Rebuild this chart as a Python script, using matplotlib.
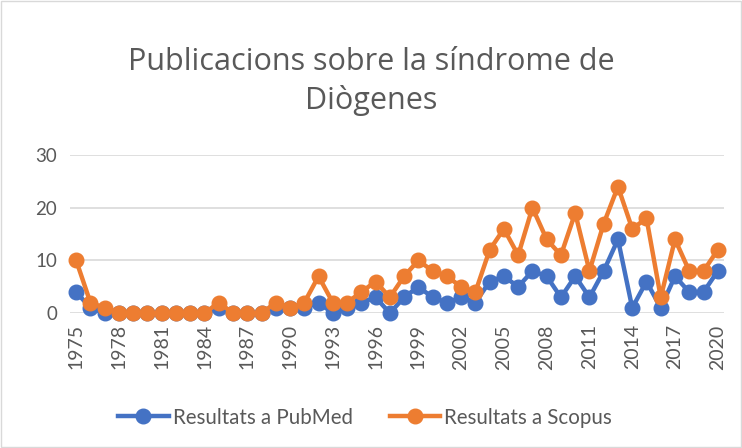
import matplotlib.pyplot as plt

years = list(range(1975, 2021))
pubmed = [4, 1, 0, 0, 0, 0, 0, 0, 0, 0, 1, 0, 0, 0, 1, 1, 1, 2, 0, 1,
          2, 3, 0, 3, 5, 3, 2, 3, 2, 6, 7, 5, 8, 7, 3, 7, 3, 8, 14, 1,
          6, 1, 7, 4, 4, 8]
scopus = [10, 2, 1, 0, 0, 0, 0, 0, 0, 0, 2, 0, 0, 0, 2, 1, 2, 7, 2, 2,
          4, 6, 3, 7, 10, 8, 7, 5, 4, 12, 16, 11, 20, 14, 11, 19, 8, 17, 24, 16,
          18, 3, 14, 8, 8, 12]
tick_years = years[::3]
title = "Publicacions sobre la síndrome de\nDiògenes"

plt.rcParams['font.family'] = ['Lato', 'DejaVu Sans']
txt = '#595959'

fig = plt.figure(figsize=(7.42, 4.48), dpi=100)
ax = fig.add_axes([0.094, 0.301, 0.882, 0.353])

ax.plot(years, pubmed, color='#4472C4', lw=3.2, marker='o', ms=10.5,
        label='Resultats a PubMed', clip_on=False, zorder=3)
ax.plot(years, scopus, color='#ED7D31', lw=3.2, marker='o', ms=10.5,
        label='Resultats a Scopus', clip_on=False, zorder=4)

ax.set_xlim(1974.55, 2020.45)
ax.set_ylim(0, 30)
ax.set_yticks([0, 10, 20, 30])
ax.set_xticks(tick_years)
ax.set_xticklabels([str(y) for y in tick_years], rotation=90)
ax.tick_params(axis='y', length=0, labelsize=13.5, colors=txt, pad=9)
ax.tick_params(axis='x', length=0, labelsize=14, colors=txt, pad=8)
ax.grid(axis='y', color='#d9d9d9', lw=1.2)
ax.set_axisbelow(True)
for s in ax.spines.values():
    s.set_visible(False)

fig.text(0.5, 0.818, title, ha='center', va='center', fontsize=22,
         color=txt, linespacing=1.32, family=['Open Sans', 'DejaVu Sans'])

leg = fig.legend(loc='center', bbox_to_anchor=(0.492, 0.068), ncol=2,
                 frameon=False, fontsize=14.8, handlelength=2.45,
                 columnspacing=1.8, handletextpad=0.2)
for t in leg.get_texts():
    t.set_color(txt)

fig.patches.append(plt.Rectangle((0.002, 0.002), 0.996, 0.996,
                                 transform=fig.transFigure, fill=False,
                                 edgecolor='#d9d9d9', lw=1))

fig.savefig('out.png', dpi=100)
